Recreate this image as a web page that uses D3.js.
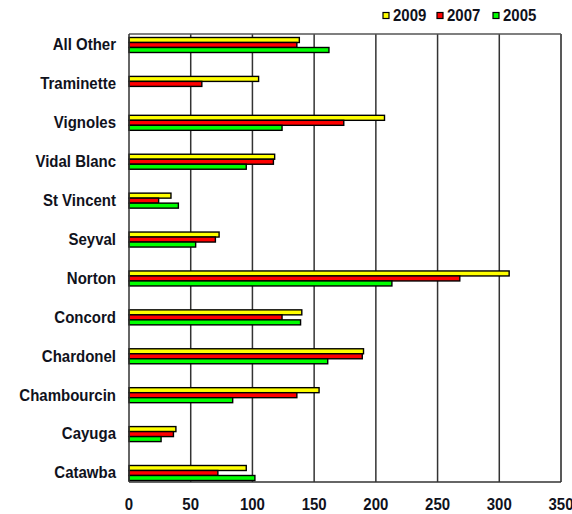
<!DOCTYPE html>
<html>
<head>
<meta charset="utf-8">
<script src="https://cdn.jsdelivr.net/npm/d3@7"></script>
<style>
  body { margin: 0; background: #fff; }
  text { font-family: "Liberation Sans", Arial, sans-serif; font-weight: bold; fill: #10121c; }
</style>
</head>
<body>
<div id="chart"></div>
<script>
// varieties, top to bottom
const varieties = ["All Other", "Traminette", "Vignoles", "Vidal Blanc", "St Vincent", "Seyval",
                   "Norton", "Concord", "Chardonel", "Chambourcin", "Cayuga", "Catawba"];
const years = ["2009", "2007", "2005"];
const values2009 = [138, 105, 207, 118, 34, 73, 308, 140, 190, 154, 38, 95];
const values2007 = [136, 59, 174, 117, 24, 70, 268, 124, 189, 136, 36, 72];
const values2005 = [162, 0, 124, 95, 40, 54, 213, 139, 161, 84, 26, 102];
const xTicks = [0, 50, 100, 150, 200, 250, 300, 350];
const colors = {"2009": "#ffff00", "2007": "#ff0000", "2005": "#00ff00"};

const W = 572, H = 514;
const plot = {left: 129, right: 561, top: 34, bottom: 482};

const series = years.map((yr, i) => ({
    year: yr,
    values: [values2009, values2007, values2005][i]
}));

const svg = d3.select("#chart")
    .append("svg")
    .attr("width", W)
    .attr("height", H);

const x = d3.scaleLinear()
    .domain([0, 350])
    .range([plot.left, plot.right]);

const y = d3.scalePoint()
    .domain(varieties)
    .range([45, 473]);

const inner = d3.scaleBand()
    .domain(years)
    .range([-7.5, 7.5]);

// gridlines
svg.append("g")
    .selectAll("line")
    .data(xTicks.filter(d => d > 0))
    .enter().append("line")
    .attr("x1", d => x(d))
    .attr("x2", d => x(d))
    .attr("y1", plot.top)
    .attr("y2", plot.bottom)
    .attr("stroke", d => d === 350 ? "#222" : "#333")
    .attr("stroke-width", 1.5);

// top and bottom border
svg.append("line")
    .attr("x1", plot.left).attr("x2", plot.right)
    .attr("y1", plot.top).attr("y2", plot.top)
    .attr("stroke", "#555").attr("stroke-width", 1.5);
svg.append("line")
    .attr("x1", plot.left).attr("x2", plot.right)
    .attr("y1", plot.bottom).attr("y2", plot.bottom)
    .attr("stroke", "#333").attr("stroke-width", 1.5);

// bars
const groups = svg.selectAll(".series")
    .data(series)
    .enter().append("g")
    .attr("class", "series");

groups.selectAll("rect")
    .data(s => s.values.map((v, i) => ({year: s.year, variety: varieties[i], value: v})))
    .enter().append("rect")
    .filter(d => d.value > 0)
    .attr("x", x(0))
    .attr("y", d => y(d.variety) + inner(d.year))
    .attr("width", d => x(d.value) - x(0))
    .attr("height", inner.bandwidth())
    .attr("fill", d => colors[d.year])
    .attr("stroke", "#000")
    .attr("stroke-width", 1.4);

// left axis line
svg.append("line")
    .attr("x1", plot.left).attr("x2", plot.left)
    .attr("y1", plot.top).attr("y2", plot.bottom)
    .attr("stroke", "#333").attr("stroke-width", 1.5);

// category labels (slightly stretched vertically like the original)
svg.append("g")
    .selectAll("text")
    .data(varieties)
    .enter().append("text")
    .attr("transform", d => `translate(116,${y(d)}) scale(1,1.08)`)
    .attr("dy", "0.33em")
    .attr("text-anchor", "end")
    .style("font-size", "15px")
    .text(d => d);

// x tick labels
svg.append("g")
    .selectAll("text")
    .data(xTicks)
    .enter().append("text")
    .attr("transform", d => `translate(${x(d)},509.5) scale(1,1.08)`)
    .attr("text-anchor", "middle")
    .style("font-size", "15px")
    .text(d => d);

// legend
const legendX = [383, 437, 493];
const legend = svg.append("g").attr("class", "legend");
years.forEach((yr, i) => {
    const row = legend.append("g")
        .attr("transform", `translate(${legendX[i]}, 12.5)`);
    row.append("rect")
        .attr("width", 6)
        .attr("height", 6)
        .attr("fill", colors[yr])
        .attr("stroke", "#000")
        .attr("stroke-width", 1.2);
    row.append("text")
        .attr("transform", "translate(10,8.3) scale(1,1.08)")
        .style("font-size", "15px")
        .text(yr);
});
</script>
</body>
</html>
